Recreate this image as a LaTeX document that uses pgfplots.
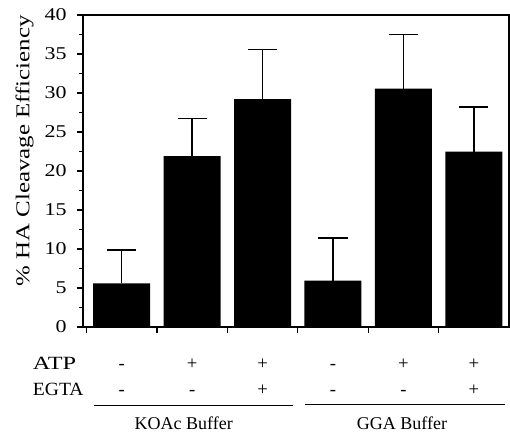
\documentclass[border=0pt]{standalone}
\usepackage{fontspec}
\setmainfont{Liberation Serif}
\usepackage{graphicx}
\usepackage{pgfplots}
\pgfplotsset{compat=1.18}
\newcommand{\wide}[1]{\scalebox{1.22}[1]{#1}}
\begin{document}
\fontsize{14pt}{16pt}\selectfont
\begin{tikzpicture}
\useasboundingbox (-62.25pt,-78.75pt) rectangle (320.25pt,245.25pt);
\begin{axis}[
  at={(0,0)}, anchor=south west,
  scale only axis, width=319.5pt, height=234pt,
  xmin=0.45, xmax=6.5, ymin=0, ymax=40,
  ytick={0,5,...,40}, minor ytick={2.5,7.5,...,37.5},
  xtick={0.5,1.5,...,5.5}, xticklabels={},
  tick align=outside, major tick length=4.5pt, minor tick length=3pt,
  xtick pos=bottom, ytick pos=left,
  axis line style={line width=1pt},
  tick style={line width=1pt,black},
  /pgf/number format/assume math mode=true,
  yticklabel={\wide{\pgfmathprintnumber{\tick}}},
  yticklabel style={font=\fontsize{13.5pt}{15pt}\selectfont, xshift=-3pt},
  ylabel={\scalebox{1.27}[1]{\% HA Cleavage Efficiency}},
  every axis y label/.style={at={([xshift=-40.3pt]axis description cs:0,0.564)},rotate=90,anchor=base,font=\fontsize{14.7pt}{16pt}\selectfont},
  clip=false,
]
\addplot[ybar, bar width=42.75pt, fill=black, draw=none,
  error bars/.cd, y dir=plus, y explicit,
  error bar style={line width=1.1pt,black},
  error mark options={rotate=90, mark size=10.9pt, line width=1.1pt, black}]
  coordinates {
  (1,5.6) +- (0,4.3)
  (2,21.9) +- (0,4.8)
  (3,29.2) +- (0,6.4)
  (4,5.95) +- (0,5.45)
  (5,30.55) +- (0,6.95)
  (6,22.5) +- (0,5.7)
  };
\node[anchor=base west, inner sep=0pt] at (axis cs:-0.265,-5.42) {\scalebox{1.3}[1]{ATP}};
\node[anchor=base west, inner sep=0pt] at (axis cs:-0.265,-8.72) {\scalebox{1.05}[1]{EGTA}};
\node[anchor=base] at (axis cs:1,-5.42) {-};
\node[anchor=base] at (axis cs:2,-5.42) {+};
\node[anchor=base] at (axis cs:3,-5.42) {+};
\node[anchor=base] at (axis cs:4,-5.42) {-};
\node[anchor=base] at (axis cs:5,-5.42) {+};
\node[anchor=base] at (axis cs:6,-5.42) {+};
\node[anchor=base] at (axis cs:1,-8.72) {-};
\node[anchor=base] at (axis cs:2,-8.72) {-};
\node[anchor=base] at (axis cs:3,-8.72) {+};
\node[anchor=base] at (axis cs:4,-8.72) {-};
\node[anchor=base] at (axis cs:5,-8.72) {-};
\node[anchor=base] at (axis cs:6,-8.72) {+};
\draw[line width=1pt] (axis cs:0.6,-10.1) -- (axis cs:3.43,-10.1);
\draw[line width=1pt] (axis cs:3.6,-9.95) -- (axis cs:6.44,-9.95);
\node[anchor=base, inner sep=0pt, font=\fontsize{13.5pt}{15pt}\selectfont] at (axis cs:1.88,-13.2) {KOAc Buffer};
\node[anchor=base, inner sep=0pt, font=\fontsize{13.5pt}{15pt}\selectfont] at (axis cs:4.98,-13.1) {GGA Buffer};
\end{axis}
\end{tikzpicture}
\end{document}
